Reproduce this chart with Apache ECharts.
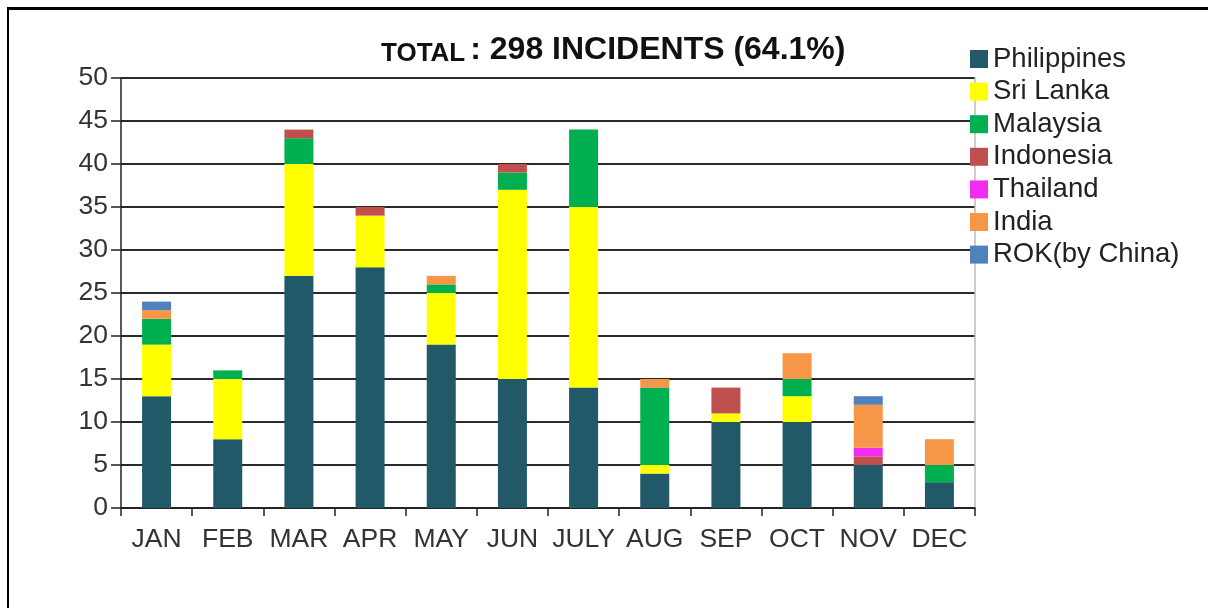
<!DOCTYPE html>
<html>
<head>
<meta charset="utf-8">
<script src="https://cdn.jsdelivr.net/npm/echarts@6/dist/echarts.min.js"></script>
<style>
html,body{margin:0;padding:0;background:#fff;}
#frame{position:absolute;left:7px;top:7px;width:1201px;height:601px;border-left:2px solid #000;border-top:3px solid #000;box-sizing:border-box;}
#chart{position:absolute;left:0;top:0;width:1208px;height:608px;}
</style>
</head>
<body>
<div id="chart"></div>
<div id="frame"></div>
<script>
const months = ['JAN','FEB','MAR','APR','MAY','JUN','JULY','AUG','SEP','OCT','NOV','DEC'];
const philippines = [13, 8, 27, 28, 19, 15, 14, 4, 10, 10, 5, 3];
const sriLanka    = [6, 7, 13, 6, 6, 22, 21, 1, 1, 3, 0, 0];
const malaysia    = [3, 1, 3, 0, 1, 2, 9, 9, 0, 2, 0, 2];
const indonesia   = [0, 0, 1, 1, 0, 1, 0, 0, 3, 0, 1, 0];
const thailand    = [0, 0, 0, 0, 0, 0, 0, 0, 0, 0, 1, 0];
const india       = [1, 0, 0, 0, 1, 0, 0, 1, 0, 3, 5, 3];
const rok         = [1, 0, 0, 0, 0, 0, 0, 0, 0, 0, 1, 0];
const yTicks = {min: 0, max: 50, interval: 5};

const seriesDefs = [
  ['Philippines', philippines, '#215968'],
  ['Sri Lanka', sriLanka, '#FFFF00'],
  ['Malaysia', malaysia, '#00B050'],
  ['Indonesia', indonesia, '#C0504D'],
  ['Thailand', thailand, '#F02CF0'],
  ['India', india, '#F79646'],
  ['ROK(by China)', rok, '#4F81BD']
];

const chart = echarts.init(document.getElementById('chart'), null, {renderer: 'canvas'});
const FONT = '"Liberation Sans", Arial, sans-serif';
chart.setOption({
  animation: false,
  backgroundColor: '#fff',
  textStyle: {fontFamily: FONT},
  title: {
    text: '{s|TOTAL} {b|: 298 INCIDENTS (64.1%)}',
    left: 376,
    top: 28,
    textStyle: {
      rich: {
        s: {fontSize: 26, fontWeight: 'bold', color: '#111', fontFamily: FONT, verticalAlign: 'bottom', padding: [8,0,0,0]},
        b: {fontSize: 32, fontWeight: 'bold', color: '#111', fontFamily: FONT}
      }
    }
  },
  legend: {
    orient: 'vertical',
    left: 965,
    top: 40,
    itemWidth: 18,
    itemHeight: 18,
    itemGap: 4.6,
    icon: 'rect',
    textStyle: {fontSize: 27.5, color: '#222', fontFamily: FONT},
    data: seriesDefs.map(d => d[0])
  },
  grid: {left: 121, right: 233, top: 78, bottom: 100, containLabel: false},
  xAxis: {
    type: 'category',
    data: months,
    axisLine: {lineStyle: {color: '#222', width: 1.5}},
    axisTick: {show: true, length: 8, lineStyle: {color: '#222', width: 1.5}},
    axisLabel: {fontSize: 26.5, color: '#333', margin: 18, fontFamily: FONT, interval: 0},
    splitLine: {show: false}
  },
  yAxis: [{
    type: 'value',
    min: yTicks.min, max: yTicks.max, interval: yTicks.interval,
    axisLine: {show: true, lineStyle: {color: '#222', width: 1.5}},
    axisTick: {show: true, length: 10, lineStyle: {color: '#222', width: 1.5}},
    axisLabel: {fontSize: 26.5, color: '#333', margin: 13, fontFamily: FONT},
    splitLine: {show: true, lineStyle: {color: '#2a2a2a', width: 1.8}}
  }, {
    type: 'value',
    position: 'right',
    min: yTicks.min, max: yTicks.max, interval: yTicks.interval,
    axisLine: {show: true, lineStyle: {color: '#bbb', width: 1.5}},
    axisTick: {show: false},
    axisLabel: {show: false},
    splitLine: {show: false}
  }],
  series: seriesDefs.map(d => ({
    name: d[0],
    type: 'bar',
    stack: 'total',
    data: d[1],
    barWidth: 29,
    itemStyle: {color: d[2]},
    emphasis: {disabled: true}
  }))
});
</script>
</body>
</html>
